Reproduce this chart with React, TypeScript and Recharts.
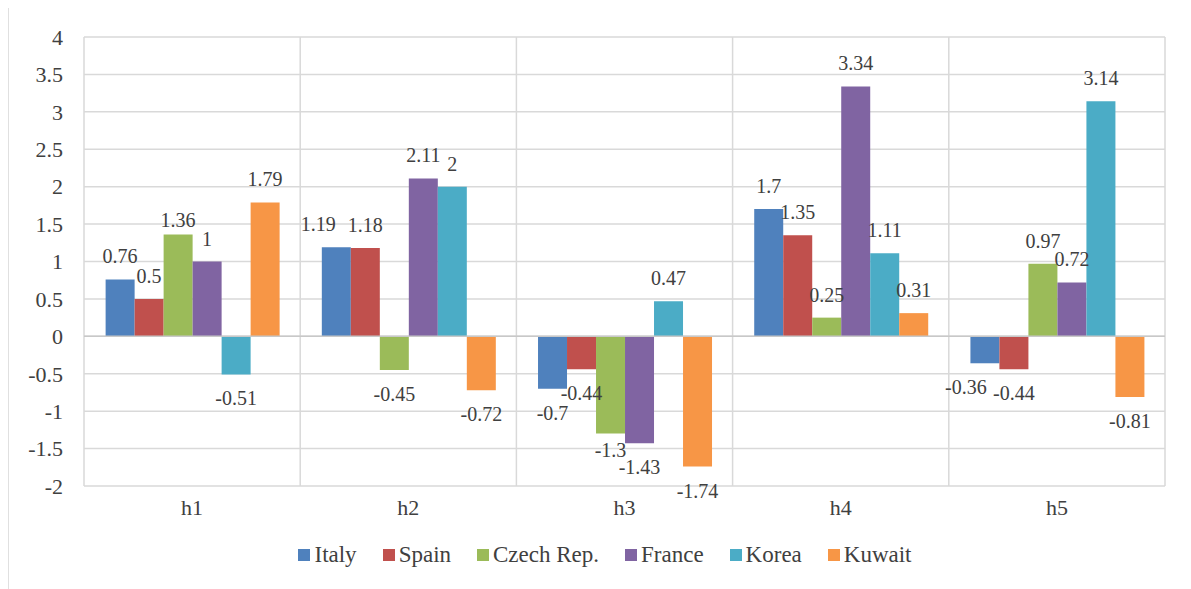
import React from 'react';
import {
  BarChart,
  Bar,
  XAxis,
  YAxis,
  CartesianGrid,
  Legend,
  LabelList,
  ReferenceLine,
} from 'recharts';

// Horizons on the category axis
const categories = ['h1', 'h2', 'h3', 'h4', 'h5'];

// Series values per horizon
const italy = [0.76, 1.19, -0.7, 1.7, -0.36];
const spain = [0.5, 1.18, -0.44, 1.35, -0.44];
const czech = [1.36, -0.45, -1.3, 0.25, 0.97];
const france = [1, 2.11, -1.43, 3.34, 0.72];
const korea = [-0.51, 2, 0.47, 1.11, 3.14];
const kuwait = [1.79, -0.72, -1.74, 0.31, -0.81];

// Value axis ticks
const yTicks = [-2, -1.5, -1, -0.5, 0, 0.5, 1, 1.5, 2, 2.5, 3, 3.5, 4];

const series = [
  { key: 'italy', name: 'Italy', color: '#4F81BD', values: italy },
  { key: 'spain', name: 'Spain', color: '#C0504D', values: spain },
  { key: 'czech', name: 'Czech Rep.', color: '#9BBB59', values: czech },
  { key: 'france', name: 'France', color: '#8064A2', values: france },
  { key: 'korea', name: 'Korea', color: '#4BACC6', values: korea },
  { key: 'kuwait', name: 'Kuwait', color: '#F79646', values: kuwait },
];

// Hand-placed nudges for value labels that would otherwise collide
const labelNudges: Record<string, { dx: number; dy: number }> = {
  'italy-1': { dx: -18, dy: 0 },
  'italy-4': { dx: -19, dy: 0 },
  'czech-0': { dx: 0, dy: 8 },
  'czech-2': { dx: 0, dy: -8 },
};

const rows = categories.map((cat, i) => {
  const row: Record<string, string | number> = { cat };
  series.forEach((s) => {
    row[s.key] = s.values[i];
  });
  return row;
});

const FONT = "'Liberation Serif', Tinos, 'Times New Roman', Times, 'Nimbus Roman', 'DejaVu Serif', serif";
const TEXT = '#404040';
const GRID = '#d9d9d9';

// Value label: above positive bars, below negative ones
const makeValueLabel = (seriesKey: string) => (props: any) => {
  const box = props.viewBox ?? props;
  const x = Number(box.x ?? props.x);
  const y = Number(box.y ?? props.y);
  const w = Number(box.width ?? props.width);
  const h = Number(box.height ?? props.height);
  const value = Number(props.value);
  const top = Math.min(y, y + h);
  const bottom = Math.max(y, y + h);
  const nudge = labelNudges[`${seriesKey}-${props.index}`] ?? { dx: 0, dy: 0 };
  const ty = (value >= 0 ? top - 16 : bottom + 31) + nudge.dy;
  return (
    <text
      x={x + w / 2 + nudge.dx}
      y={ty}
      textAnchor="middle"
      style={{ fontSize: 20, fontFamily: FONT, fill: TEXT }}
    >
      {String(value)}
    </text>
  );
};

const renderLegend = () => (
  <div
    style={{
      display: 'flex',
      justifyContent: 'center',
      alignItems: 'center',
      height: 30,
      paddingLeft: 11,
      fontFamily: FONT,
      fontSize: 23,
      color: TEXT,
    }}
  >
    {series.map((s, i) => (
      <div
        key={s.key}
        style={{
          display: 'flex',
          alignItems: 'center',
          marginLeft: i === 0 ? 0 : 26,
        }}
      >
        <span
          style={{
            display: 'inline-block',
            width: 12,
            height: 12,
            background: s.color,
            marginRight: 4,
          }}
        />
        <span>{s.name}</span>
      </div>
    ))}
  </div>
);

const tickStyle = { fontSize: 22, fontFamily: FONT, fill: TEXT };

export default function App() {
  return (
    <div style={{ position: 'relative', width: 1183, height: 581, fontFamily: FONT }}>
      <div
        style={{
          position: 'absolute',
          left: 0,
          top: -1,
          width: 1183,
          height: 582,
          boxSizing: 'border-box',
          borderTop: '1px solid #e0e0e0',
          borderLeft: '1px solid #e0e0e0',
        }}
      />
      <BarChart
        width={1183}
        height={581}
        data={rows}
        margin={{ top: 29, right: 26, left: 0, bottom: 33 }}
        barCategoryGap="10%"
        barGap={0}
        style={{ fontFamily: FONT }}
      >
        <CartesianGrid
          stroke={GRID}
          strokeWidth={1.5}
          horizontal
          vertical
          verticalCoordinatesGenerator={({ offset }: any) =>
            Array.from(
              { length: categories.length + 1 },
              (_, i) => offset.left + (i * offset.width) / categories.length
            )
          }
        />
        <XAxis
          dataKey="cat"
          axisLine={false}
          tickLine={false}
          tickSize={0}
          tickMargin={13}
          height={40}
          interval={0}
          tick={{ ...tickStyle, style: tickStyle }}
        />
        <YAxis
          width={76}
          domain={[-2, 4]}
          ticks={yTicks}
          interval={0}
          axisLine={false}
          tickLine={false}
          tickSize={0}
          tickMargin={21}
          tick={{ ...tickStyle, style: tickStyle }}
        />
        <ReferenceLine y={0} stroke="#c8c8c8" strokeWidth={1.5} />
        <Legend
          content={renderLegend}
          verticalAlign="bottom"
          wrapperStyle={{ top: 532, bottom: 'auto', left: 0, width: 1183, height: 30 }}
        />
        {series.map((s) => (
          <Bar
            key={s.key}
            dataKey={s.key}
            name={s.name}
            fill={s.color}
            isAnimationActive={false}
          >
            <LabelList dataKey={s.key} content={makeValueLabel(s.key)} />
          </Bar>
        ))}
      </BarChart>
    </div>
  );
}
